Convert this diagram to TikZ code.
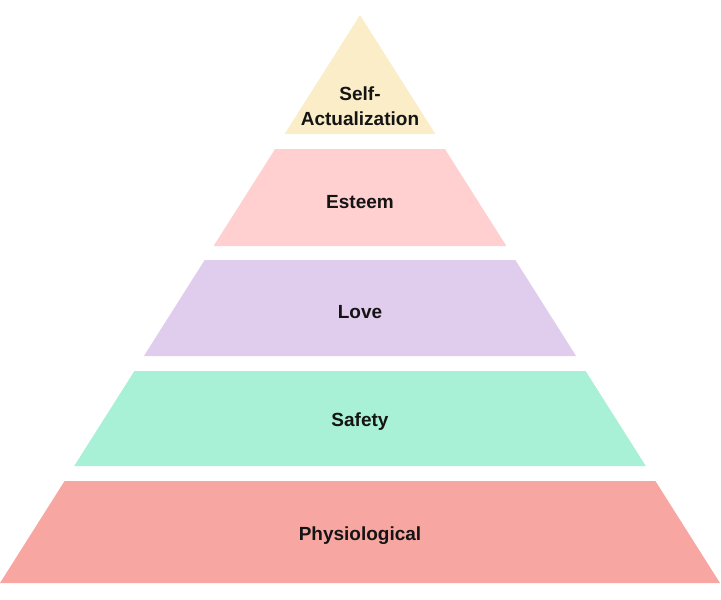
\documentclass[tikz,border=0pt]{standalone}
\usepackage{fontspec}
\setmainfont{Liberation Sans}
\definecolor{cself}{RGB}{250,237,200}
\definecolor{cesteem}{RGB}{255,208,207}
\definecolor{clove}{RGB}{224,205,238}
\definecolor{csafety}{RGB}{168,240,214}
\definecolor{cphys}{RGB}{248,166,162}
\definecolor{ctext}{RGB}{20,20,20}
\begin{document}
\begin{tikzpicture}[x=1pt,y=-1pt,
  lbl/.style={font=\fontsize{19}{25}\selectfont\bfseries, text=ctext, align=center, inner sep=0pt}]
\useasboundingbox (0,0) rectangle (721,600);
\fill[cself] (360,15) -- (435.4,134) -- (284.6,134) -- cycle;
\fill[cesteem] (275.1,149) -- (444.9,149) -- (506.4,246) -- (213.6,246) -- cycle;
\fill[clove] (204.7,260) -- (515.3,260) -- (576.1,356) -- (143.9,356) -- cycle;
\fill[csafety] (134.4,371) -- (585.6,371) -- (645.8,466) -- (74.2,466) -- cycle;
\fill[cphys] (64.6,481) -- (655.4,481) -- (720,583) -- (0,583) -- cycle;
\node[lbl] (self) at (360,106) {Self-\\Actualization};
\node[lbl] (esteem) at (360,202) {Esteem};
\node[lbl] (love) at (360,312) {Love};
\node[lbl] (safety) at (360,422) {Safety};
\node[lbl] (phys) at (360,536) {Physiological};
\end{tikzpicture}
\end{document}
